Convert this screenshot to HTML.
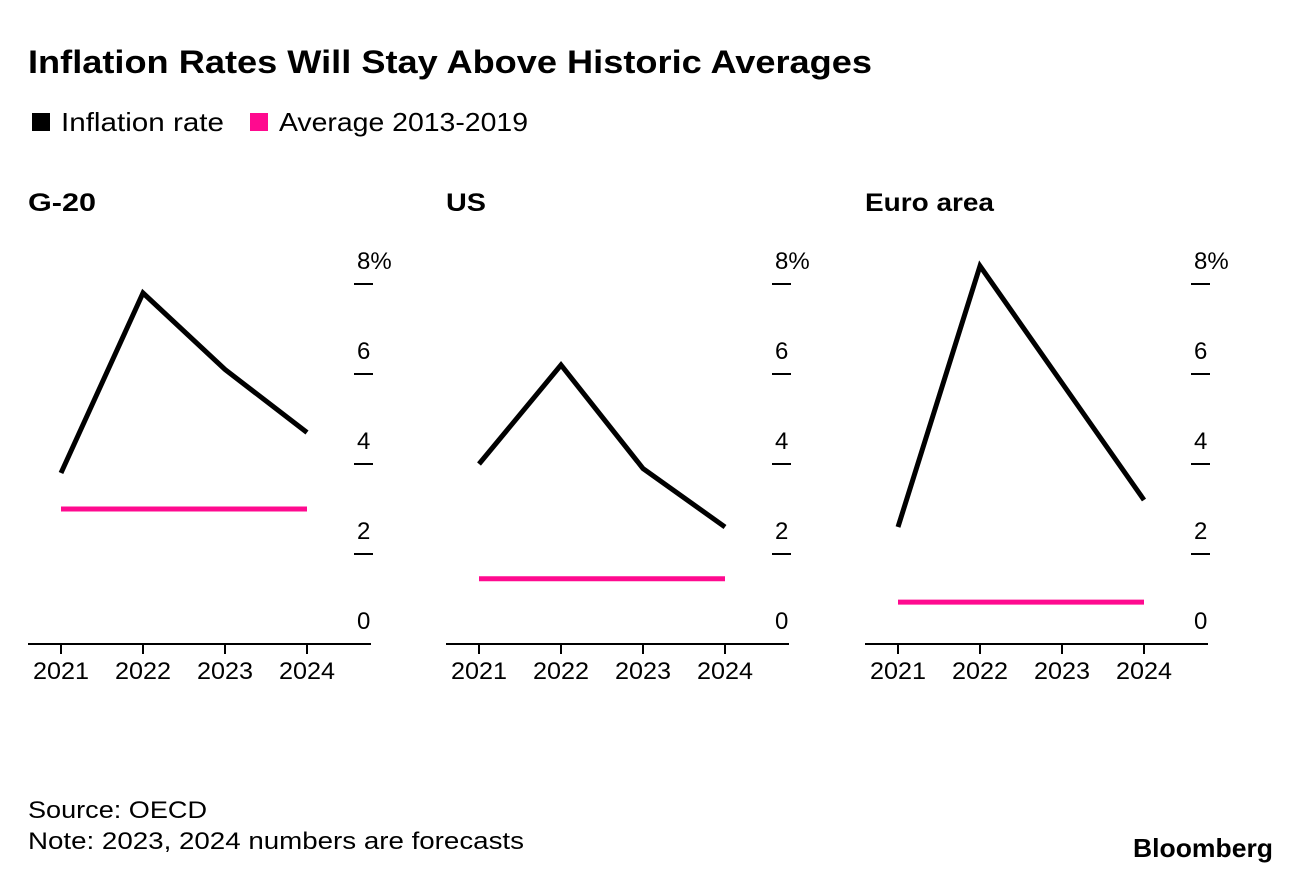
<!DOCTYPE html>
<html><head><meta charset="utf-8"><style>
body{margin:0;background:#fff;width:1296px;height:880px;overflow:hidden;font-family:"Liberation Sans",sans-serif;color:#000}
svg{position:absolute;left:0;top:0}
</style></head><body>
<svg id="c" width="1296" height="880">
<text x="28" y="73" font-size="32" font-weight="bold" textLength="844" lengthAdjust="spacingAndGlyphs">Inflation Rates Will Stay Above Historic Averages</text>
<rect x="32" y="113" width="18" height="18" fill="#000"/>
<text x="61" y="131" font-size="26" textLength="163" lengthAdjust="spacingAndGlyphs">Inflation rate</text>
<rect x="250" y="113" width="18" height="18" fill="#ff0a8f"/>
<text x="279" y="131" font-size="26" textLength="249" lengthAdjust="spacingAndGlyphs">Average 2013-2019</text>
<text x="28" y="818" font-size="24" textLength="179" lengthAdjust="spacingAndGlyphs">Source: OECD</text>
<text x="28" y="849" font-size="24" textLength="496" lengthAdjust="spacingAndGlyphs">Note: 2023, 2024 numbers are forecasts</text>
<text x="1133" y="857" font-size="26" font-weight="bold" textLength="140" lengthAdjust="spacingAndGlyphs">Bloomberg</text>
</svg>
<script>
const panels=["G-20","US","Euro area"];
const years=["2021","2022","2023","2024"];
const g20Values=[3.8,7.8,6.1,4.7];
const usValues=[4.0,6.2,3.9,2.6];
const euroValues=[2.6,8.4,5.8,3.2];
const averages=[3.0,1.45,0.93];
const yTicks=[0,2,4,6,8];
const series=[g20Values,usValues,euroValues];
const NS="http://www.w3.org/2000/svg";
const svg=document.getElementById('c');
function mk(t,a){const e=document.createElementNS(NS,t);for(const k in a)e.setAttribute(k,a[k]);svg.appendChild(e);return e;}
const lefts=[28,446,865];
const titleW=[68,40,129];
const y0=644, yMax=8, yTop=284;
function yS(v){return y0-(v/yMax)*(y0-yTop);}
panels.forEach((p,i)=>{
  const L=lefts[i];
  function xS(j){return L+33+j*82;}
  let t=mk('text',{x:L,y:211,'font-size':25,'font-weight':'bold',textLength:titleW[i],lengthAdjust:'spacingAndGlyphs'});t.textContent=p;
  
  
  let ax=mk('line',{x1:L,x2:L+343,y1:y0,y2:y0,stroke:'#000','stroke-width':2});
  
  
  years.forEach((yr,j)=>{
    let tk=mk('line',{x1:xS(j),x2:xS(j),y1:y0,y2:y0+10,stroke:'#000','stroke-width':2});
    
    
    let lb=mk('text',{x:xS(j),y:679,'font-size':24,'text-anchor':'middle',textLength:56,lengthAdjust:'spacingAndGlyphs'});lb.textContent=yr;
    
    
  });
  yTicks.forEach(v=>{
    if(v>0){let tk=mk('line',{x1:L+326,x2:L+345,y1:yS(v),y2:yS(v),stroke:'#000','stroke-width':2});
    
    }
    let lb=mk('text',{x:L+329,y:yS(v)-15,'font-size':24});lb.textContent=v===8?'8%':String(v);
    
    
  });
  let av=mk('line',{x1:xS(0),x2:xS(3),y1:yS(averages[i]),y2:yS(averages[i]),stroke:'#ff0a8f','stroke-width':5});
  
  
  let pts=series[i].map((v,j)=>xS(j)+','+yS(v)).join(' ');
  let pl=mk('polyline',{points:pts,fill:'none',stroke:'#000','stroke-width':5,'stroke-linejoin':'miter'});
  
  
});
</script>
</body></html>
